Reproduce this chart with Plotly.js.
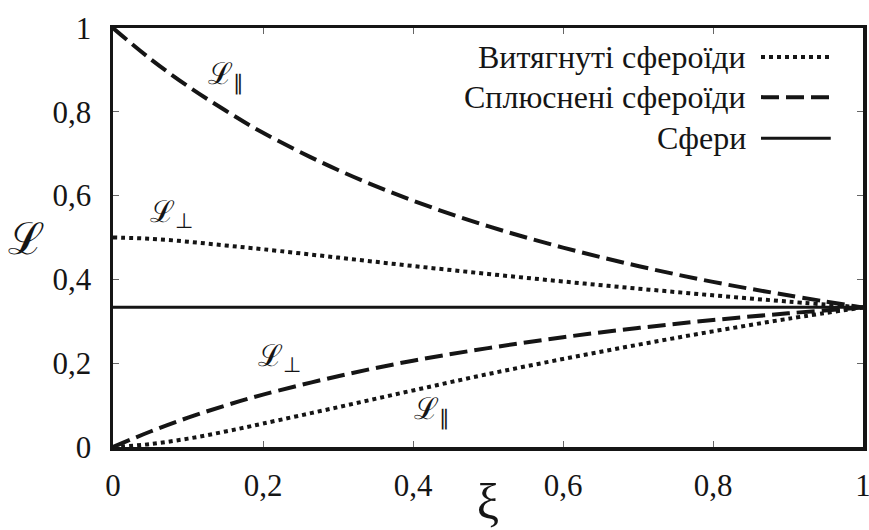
<!DOCTYPE html>
<html>
<head>
<meta charset="utf-8">
<script src="https://cdn.plot.ly/plotly-3.0.1.min.js"></script>
<style>
  html, body { margin: 0; padding: 0; background: #ffffff; }
  #plot { width: 869px; height: 530px; }
  #plot svg text { font-family: 'Liberation Serif', 'Times New Roman', serif !important; }
</style>
</head>
<body>
<div id="plot"></div>
<script>
// Depolarization factors of spheroids versus axis ratio ξ
const xi          = [0, 0.05, 0.1, 0.15, 0.2, 0.3, 0.4, 0.5, 0.6, 0.7, 0.8, 0.9, 1];
// prolate spheroids (dotted)
const prolatePar  = [0, 0.007, 0.020, 0.037, 0.056, 0.095, 0.135, 0.174, 0.210, 0.244, 0.276, 0.306, 0.333];
const prolatePerp = [0.5, 0.497, 0.490, 0.481, 0.472, 0.452, 0.432, 0.413, 0.395, 0.378, 0.362, 0.347, 0.333];
// oblate spheroids (dashed)
const oblatePar   = [1, 0.926, 0.861, 0.803, 0.750, 0.661, 0.588, 0.527, 0.476, 0.432, 0.394, 0.362, 0.333];
const oblatePerp  = [0, 0.037, 0.070, 0.099, 0.125, 0.169, 0.206, 0.236, 0.262, 0.284, 0.303, 0.319, 0.333];
// spheres (solid)
const sphereX     = [0, 1];
const sphereY     = [0.3333, 0.3333];

const tickVals    = [0, 0.2, 0.4, 0.6, 0.8, 1];
const tickText    = ['0', '0,2', '0,4', '0,6', '0,8', '1'];

const seriesNames = ['Витягнуті сфероїди', 'Сплюснені сфероїди', 'Сфери'];

// curve labels: [x, y, text]
const curveLabels = [
  [0.150, 0.885, 'ℒ<sub>∥</sub>'],
  [0.078, 0.555, 'ℒ<sub>⊥</sub>'],
  [0.222, 0.212, 'ℒ<sub>⊥</sub>'],
  [0.425, 0.085, 'ℒ<sub>∥</sub>']
];

const serif = 'Liberation Serif';
const ink = '#151515';
const dotted = 'dot';
const dashed = '18px,7px';

function curve(x, y, dash, w) {
  return {
    x: x, y: y, mode: 'lines', hoverinfo: 'skip', showlegend: false,
    line: { color: ink, width: w, dash: dash, shape: 'spline', smoothing: 1 }
  };
}

const traces = [
  curve(xi, prolatePar, dotted, 4),
  curve(xi, prolatePerp, dotted, 4),
  curve(xi, oblatePar, dashed, 4),
  curve(xi, oblatePerp, dashed, 4),
  curve(sphereX, sphereY, 'solid', 3)
];

// legend drawn as right-aligned text followed by a line sample
const legendRows = [0.931, 0.835, 0.737];
const legendDash = [dotted, dashed, 'solid'];
const legendWidth = [4, 4, 3];

const annotations = [];
const shapes = [];
seriesNames.forEach((name, i) => {
  annotations.push({
    xref: 'paper', yref: 'paper', x: 0.846, y: legendRows[i],
    xanchor: 'right', yanchor: 'middle', showarrow: false,
    text: name, font: { family: serif, size: 32, color: ink }
  });
  shapes.push({
    type: 'line', xref: 'paper', yref: 'paper',
    x0: 0.864, x1: 0.957, y0: legendRows[i], y1: legendRows[i],
    line: { color: ink, width: legendWidth[i], dash: legendDash[i] }
  });
});

curveLabels.forEach(([x, y, t]) => {
  annotations.push({
    xref: 'x', yref: 'y', x: x, y: y, showarrow: false,
    xanchor: 'center', yanchor: 'middle',
    text: t, font: { family: serif, size: 30, color: ink }
  });
});

// upright y-axis symbol
annotations.push({
  xref: 'paper', yref: 'paper', x: -0.115, y: 0.495,
  xanchor: 'center', yanchor: 'middle', showarrow: false,
  text: 'ℒ', font: { family: serif, size: 44, color: ink }
});

const axisCommon = {
  range: [0, 1], tickmode: 'array', tickvals: tickVals, ticktext: tickText,
  ticks: 'inside', ticklen: 6, tickwidth: 1, tickcolor: '#666',
  showline: true, linewidth: 3.5, linecolor: ink, mirror: 'allticks',
  showgrid: false, zeroline: false, ticklabeloverflow: 'allow',
  tickfont: { family: serif, size: 31, color: ink }
};

const layout = {
  width: 869, height: 530,
  margin: { l: 113, r: 6, t: 28, b: 83 },
  paper_bgcolor: '#ffffff', plot_bgcolor: '#ffffff',
  font: { family: serif, color: ink },
  showlegend: false,
  xaxis: Object.assign({}, axisCommon, {
    ticklabelstandoff: 8,
    title: { text: 'ξ', font: { family: serif, size: 50, color: ink }, standoff: 4 }
  }),
  yaxis: Object.assign({}, axisCommon, { ticklabelstandoff: 12 }),
  annotations: annotations,
  shapes: shapes
};

Plotly.newPlot('plot', traces, layout, { displayModeBar: false, staticPlot: true });
</script>
</body>
</html>
